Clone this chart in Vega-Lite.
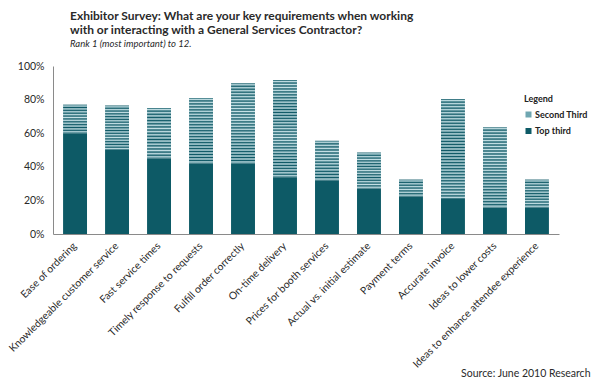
{
  "$schema": "https://vega.github.io/schema/vega-lite/v6.json",
  "autosize": "none",
  "width": 506,
  "height": 168,
  "padding": {"left": 53, "top": 66, "right": 41, "bottom": 146},
  "background": "white",
  "config": {"font": "Lato", "view": {"stroke": null}},
  "title": {
    "text": ["Exhibitor Survey: What are your key requirements when working", "with or interacting with a General Services Contractor?"],
    "subtitle": "Rank 1 (most important) to 12.",
    "anchor": "start",
    "frame": "group",
    "dx": 17,
    "offset": 12,
    "fontSize": 12,
    "fontWeight": "bold",
    "lineHeight": 14,
    "color": "#2a2a2a",
    "subtitleFontSize": 9.5,
    "subtitleFontStyle": "italic",
    "subtitleColor": "#2a2a2a",
    "subtitlePadding": 2
  },
  "data": {
    "values": [
      {"item": "Ease of ordering", "tier": "Top third", "pct": 60},
      {"item": "Ease of ordering", "tier": "Second Third", "pct": 17},
      {"item": "Knowledgeable customer service", "tier": "Top third", "pct": 50},
      {"item": "Knowledgeable customer service", "tier": "Second Third", "pct": 26.5},
      {"item": "Fast service times", "tier": "Top third", "pct": 45},
      {"item": "Fast service times", "tier": "Second Third", "pct": 30},
      {"item": "Timely response to requests", "tier": "Top third", "pct": 42},
      {"item": "Timely response to requests", "tier": "Second Third", "pct": 39},
      {"item": "Fulfill order correctly", "tier": "Top third", "pct": 42},
      {"item": "Fulfill order correctly", "tier": "Second Third", "pct": 47.7},
      {"item": "On-time delivery", "tier": "Top third", "pct": 33.8},
      {"item": "On-time delivery", "tier": "Second Third", "pct": 57.8},
      {"item": "Prices for booth services", "tier": "Top third", "pct": 31.8},
      {"item": "Prices for booth services", "tier": "Second Third", "pct": 23.7},
      {"item": "Actual vs. initial estimate", "tier": "Top third", "pct": 27},
      {"item": "Actual vs. initial estimate", "tier": "Second Third", "pct": 21.5},
      {"item": "Payment terms", "tier": "Top third", "pct": 22.3},
      {"item": "Payment terms", "tier": "Second Third", "pct": 10.1},
      {"item": "Accurate invoice", "tier": "Top third", "pct": 20.9},
      {"item": "Accurate invoice", "tier": "Second Third", "pct": 59.4},
      {"item": "Ideas to lower costs", "tier": "Top third", "pct": 15.7},
      {"item": "Ideas to lower costs", "tier": "Second Third", "pct": 47.9},
      {"item": "Ideas to enhance attendee experience", "tier": "Top third", "pct": 15.7},
      {"item": "Ideas to enhance attendee experience", "tier": "Second Third", "pct": 16.7}
    ]
  },
  "mark": {"type": "bar"},
  "encoding": {
    "x": {
      "field": "item",
      "type": "nominal",
      "sort": null,
      "scale": {"paddingInner": 0.43, "paddingOuter": 0.24},
      "axis": {
        "title": "Source: June 2010 Research",
        "titleAnchor": "end",
        "titleAlign": "right",
        "titleBaseline": "alphabetic",
        "titleX": 537,
        "titleY": 142,
        "titleFontSize": 10.5,
        "titleFontWeight": "normal",
        "titleColor": "#2a2a2a",
        "labelAngle": -45,
        "labelAlign": "right",
        "labelBaseline": "middle",
        "labelFontSize": 10.4,
        "labelColor": "#2a2a2a",
        "labelPadding": 10,
        "labelLimit": 0,
        "ticks": false,
        "domainColor": "#8a8a8a",
        "domainWidth": 1
      }
    },
    "y": {
      "field": "pct",
      "type": "quantitative",
      "stack": "zero",
      "scale": {"domain": [0, 100], "nice": false},
      "axis": {
        "title": null,
        "values": [0, 20, 40, 60, 80, 100],
        "labelExpr": "datum.value + '%'",
        "labelFontSize": 10.5,
        "labelColor": "#2a2a2a",
        "labelPadding": 9,
        "ticks": false,
        "grid": false,
        "domainColor": "#8a8a8a",
        "domainWidth": 1
      }
    },
    "order": {"field": "tier", "sort": "descending"},
    "fill": {
      "field": "tier",
      "type": "nominal",
      "scale": {"domain": ["Second Third", "Top third"], "range": ["#6fa6b1", "#0d5a66"]},
      "legend": {
        "title": "Legend",
        "orient": "none",
        "legendX": 471,
        "legendY": 29,
        "titleFontSize": 9,
        "titleFontWeight": "bold",
        "titleColor": "#222222",
        "titlePadding": 6,
        "labelFontSize": 9,
        "labelFontWeight": "bold",
        "labelColor": "#222222",
        "labelOffset": 2,
        "symbolType": "square",
        "symbolSize": 36,
        "symbolStrokeWidth": 0,
        "rowPadding": 6.5
      },
      "condition": [
        {"test": "datum.tier === 'Second Third' && datum.item === 'Payment terms'", "value": {"gradient": "linear", "x1": 0, "y1": 0, "x2": 0, "y2": 1, "stops": [
          {"offset": 0, "color": "#0f5966"}, {"offset": 0.0833, "color": "#c6e1e6"}, {"offset": 0.1667, "color": "#0f5966"}, {"offset": 0.25, "color": "#c6e1e6"}, {"offset": 0.3333, "color": "#0f5966"}, {"offset": 0.4167, "color": "#c6e1e6"}, {"offset": 0.5, "color": "#0f5966"}, {"offset": 0.5833, "color": "#c6e1e6"}, {"offset": 0.6667, "color": "#0f5966"}, {"offset": 0.75, "color": "#c6e1e6"}, {"offset": 0.8333, "color": "#0f5966"}, {"offset": 0.9167, "color": "#c6e1e6"}, {"offset": 1, "color": "#0f5966"}]}},
        {"test": "datum.tier === 'Second Third' && (datum.item === 'Ease of ordering' || datum.item === 'Ideas to enhance attendee experience')", "value": {"gradient": "linear", "x1": 0, "y1": 0, "x2": 0, "y2": 1, "stops": [
          {"offset": 0, "color": "#0f5966"}, {"offset": 0.05, "color": "#c6e1e6"}, {"offset": 0.1, "color": "#0f5966"}, {"offset": 0.15, "color": "#c6e1e6"}, {"offset": 0.2, "color": "#0f5966"}, {"offset": 0.25, "color": "#c6e1e6"}, {"offset": 0.3, "color": "#0f5966"}, {"offset": 0.35, "color": "#c6e1e6"}, {"offset": 0.4, "color": "#0f5966"}, {"offset": 0.45, "color": "#c6e1e6"}, {"offset": 0.5, "color": "#0f5966"}, {"offset": 0.55, "color": "#c6e1e6"}, {"offset": 0.6, "color": "#0f5966"}, {"offset": 0.65, "color": "#c6e1e6"}, {"offset": 0.7, "color": "#0f5966"}, {"offset": 0.75, "color": "#c6e1e6"}, {"offset": 0.8, "color": "#0f5966"}, {"offset": 0.85, "color": "#c6e1e6"}, {"offset": 0.9, "color": "#0f5966"}, {"offset": 0.95, "color": "#c6e1e6"}, {"offset": 1, "color": "#0f5966"}]}},
        {"test": "datum.tier === 'Second Third' && (datum.item === 'Actual vs. initial estimate' || datum.item === 'Prices for booth services')", "value": {"gradient": "linear", "x1": 0, "y1": 0, "x2": 0, "y2": 1, "stops": [
          {"offset": 0, "color": "#0f5966"}, {"offset": 0.0385, "color": "#c6e1e6"}, {"offset": 0.0769, "color": "#0f5966"}, {"offset": 0.1154, "color": "#c6e1e6"}, {"offset": 0.1538, "color": "#0f5966"}, {"offset": 0.1923, "color": "#c6e1e6"}, {"offset": 0.2308, "color": "#0f5966"}, {"offset": 0.2692, "color": "#c6e1e6"}, {"offset": 0.3077, "color": "#0f5966"}, {"offset": 0.3462, "color": "#c6e1e6"}, {"offset": 0.3846, "color": "#0f5966"}, {"offset": 0.4231, "color": "#c6e1e6"}, {"offset": 0.4615, "color": "#0f5966"}, {"offset": 0.5, "color": "#c6e1e6"}, {"offset": 0.5385, "color": "#0f5966"}, {"offset": 0.5769, "color": "#c6e1e6"}, {"offset": 0.6154, "color": "#0f5966"}, {"offset": 0.6538, "color": "#c6e1e6"}, {"offset": 0.6923, "color": "#0f5966"}, {"offset": 0.7308, "color": "#c6e1e6"}, {"offset": 0.7692, "color": "#0f5966"}, {"offset": 0.8077, "color": "#c6e1e6"}, {"offset": 0.8462, "color": "#0f5966"}, {"offset": 0.8846, "color": "#c6e1e6"}, {"offset": 0.9231, "color": "#0f5966"}, {"offset": 0.9615, "color": "#c6e1e6"}, {"offset": 1, "color": "#0f5966"}]}},
        {"test": "datum.tier === 'Second Third' && (datum.item === 'Knowledgeable customer service' || datum.item === 'Fast service times')", "value": {"gradient": "linear", "x1": 0, "y1": 0, "x2": 0, "y2": 1, "stops": [
          {"offset": 0, "color": "#0f5966"}, {"offset": 0.03125, "color": "#c6e1e6"}, {"offset": 0.0625, "color": "#0f5966"}, {"offset": 0.09375, "color": "#c6e1e6"}, {"offset": 0.125, "color": "#0f5966"}, {"offset": 0.15625, "color": "#c6e1e6"}, {"offset": 0.1875, "color": "#0f5966"}, {"offset": 0.21875, "color": "#c6e1e6"}, {"offset": 0.25, "color": "#0f5966"}, {"offset": 0.28125, "color": "#c6e1e6"}, {"offset": 0.3125, "color": "#0f5966"}, {"offset": 0.34375, "color": "#c6e1e6"}, {"offset": 0.375, "color": "#0f5966"}, {"offset": 0.40625, "color": "#c6e1e6"}, {"offset": 0.4375, "color": "#0f5966"}, {"offset": 0.46875, "color": "#c6e1e6"}, {"offset": 0.5, "color": "#0f5966"}, {"offset": 0.53125, "color": "#c6e1e6"}, {"offset": 0.5625, "color": "#0f5966"}, {"offset": 0.59375, "color": "#c6e1e6"}, {"offset": 0.625, "color": "#0f5966"}, {"offset": 0.65625, "color": "#c6e1e6"}, {"offset": 0.6875, "color": "#0f5966"}, {"offset": 0.71875, "color": "#c6e1e6"}, {"offset": 0.75, "color": "#0f5966"}, {"offset": 0.78125, "color": "#c6e1e6"}, {"offset": 0.8125, "color": "#0f5966"}, {"offset": 0.84375, "color": "#c6e1e6"}, {"offset": 0.875, "color": "#0f5966"}, {"offset": 0.90625, "color": "#c6e1e6"}, {"offset": 0.9375, "color": "#0f5966"}, {"offset": 0.96875, "color": "#c6e1e6"}, {"offset": 1, "color": "#0f5966"}]}},
        {"test": "datum.tier === 'Second Third' && datum.item === 'Timely response to requests'", "value": {"gradient": "linear", "x1": 0, "y1": 0, "x2": 0, "y2": 1, "stops": [
          {"offset": 0, "color": "#0f5966"}, {"offset": 0.0227, "color": "#c6e1e6"}, {"offset": 0.0455, "color": "#0f5966"}, {"offset": 0.0682, "color": "#c6e1e6"}, {"offset": 0.0909, "color": "#0f5966"}, {"offset": 0.1136, "color": "#c6e1e6"}, {"offset": 0.1364, "color": "#0f5966"}, {"offset": 0.1591, "color": "#c6e1e6"}, {"offset": 0.1818, "color": "#0f5966"}, {"offset": 0.2045, "color": "#c6e1e6"}, {"offset": 0.2273, "color": "#0f5966"}, {"offset": 0.25, "color": "#c6e1e6"}, {"offset": 0.2727, "color": "#0f5966"}, {"offset": 0.2955, "color": "#c6e1e6"}, {"offset": 0.3182, "color": "#0f5966"}, {"offset": 0.3409, "color": "#c6e1e6"}, {"offset": 0.3636, "color": "#0f5966"}, {"offset": 0.3864, "color": "#c6e1e6"}, {"offset": 0.4091, "color": "#0f5966"}, {"offset": 0.4318, "color": "#c6e1e6"}, {"offset": 0.4545, "color": "#0f5966"}, {"offset": 0.4773, "color": "#c6e1e6"}, {"offset": 0.5, "color": "#0f5966"}, {"offset": 0.5227, "color": "#c6e1e6"}, {"offset": 0.5455, "color": "#0f5966"}, {"offset": 0.5682, "color": "#c6e1e6"}, {"offset": 0.5909, "color": "#0f5966"}, {"offset": 0.6136, "color": "#c6e1e6"}, {"offset": 0.6364, "color": "#0f5966"}, {"offset": 0.6591, "color": "#c6e1e6"}, {"offset": 0.6818, "color": "#0f5966"}, {"offset": 0.7045, "color": "#c6e1e6"}, {"offset": 0.7273, "color": "#0f5966"}, {"offset": 0.75, "color": "#c6e1e6"}, {"offset": 0.7727, "color": "#0f5966"}, {"offset": 0.7955, "color": "#c6e1e6"}, {"offset": 0.8182, "color": "#0f5966"}, {"offset": 0.8409, "color": "#c6e1e6"}, {"offset": 0.8636, "color": "#0f5966"}, {"offset": 0.8864, "color": "#c6e1e6"}, {"offset": 0.9091, "color": "#0f5966"}, {"offset": 0.9318, "color": "#c6e1e6"}, {"offset": 0.9545, "color": "#0f5966"}, {"offset": 0.9773, "color": "#c6e1e6"}, {"offset": 1, "color": "#0f5966"}]}},
        {"test": "datum.tier === 'Second Third' && (datum.item === 'Fulfill order correctly' || datum.item === 'Ideas to lower costs')", "value": {"gradient": "linear", "x1": 0, "y1": 0, "x2": 0, "y2": 1, "stops": [
          {"offset": 0, "color": "#0f5966"}, {"offset": 0.0185, "color": "#c6e1e6"}, {"offset": 0.037, "color": "#0f5966"}, {"offset": 0.0556, "color": "#c6e1e6"}, {"offset": 0.0741, "color": "#0f5966"}, {"offset": 0.0926, "color": "#c6e1e6"}, {"offset": 0.1111, "color": "#0f5966"}, {"offset": 0.1296, "color": "#c6e1e6"}, {"offset": 0.1481, "color": "#0f5966"}, {"offset": 0.1667, "color": "#c6e1e6"}, {"offset": 0.1852, "color": "#0f5966"}, {"offset": 0.2037, "color": "#c6e1e6"}, {"offset": 0.2222, "color": "#0f5966"}, {"offset": 0.2407, "color": "#c6e1e6"}, {"offset": 0.2593, "color": "#0f5966"}, {"offset": 0.2778, "color": "#c6e1e6"}, {"offset": 0.2963, "color": "#0f5966"}, {"offset": 0.3148, "color": "#c6e1e6"}, {"offset": 0.3333, "color": "#0f5966"}, {"offset": 0.3519, "color": "#c6e1e6"}, {"offset": 0.3704, "color": "#0f5966"}, {"offset": 0.3889, "color": "#c6e1e6"}, {"offset": 0.4074, "color": "#0f5966"}, {"offset": 0.4259, "color": "#c6e1e6"}, {"offset": 0.4444, "color": "#0f5966"}, {"offset": 0.463, "color": "#c6e1e6"}, {"offset": 0.4815, "color": "#0f5966"}, {"offset": 0.5, "color": "#c6e1e6"}, {"offset": 0.5185, "color": "#0f5966"}, {"offset": 0.537, "color": "#c6e1e6"}, {"offset": 0.5556, "color": "#0f5966"}, {"offset": 0.5741, "color": "#c6e1e6"}, {"offset": 0.5926, "color": "#0f5966"}, {"offset": 0.6111, "color": "#c6e1e6"}, {"offset": 0.6296, "color": "#0f5966"}, {"offset": 0.6481, "color": "#c6e1e6"}, {"offset": 0.6667, "color": "#0f5966"}, {"offset": 0.6852, "color": "#c6e1e6"}, {"offset": 0.7037, "color": "#0f5966"}, {"offset": 0.7222, "color": "#c6e1e6"}, {"offset": 0.7407, "color": "#0f5966"}, {"offset": 0.7593, "color": "#c6e1e6"}, {"offset": 0.7778, "color": "#0f5966"}, {"offset": 0.7963, "color": "#c6e1e6"}, {"offset": 0.8148, "color": "#0f5966"}, {"offset": 0.8333, "color": "#c6e1e6"}, {"offset": 0.8519, "color": "#0f5966"}, {"offset": 0.8704, "color": "#c6e1e6"}, {"offset": 0.8889, "color": "#0f5966"}, {"offset": 0.9074, "color": "#c6e1e6"}, {"offset": 0.9259, "color": "#0f5966"}, {"offset": 0.9444, "color": "#c6e1e6"}, {"offset": 0.963, "color": "#0f5966"}, {"offset": 0.9815, "color": "#c6e1e6"}, {"offset": 1, "color": "#0f5966"}]}},
        {"test": "datum.tier === 'Second Third' && (datum.item === 'On-time delivery' || datum.item === 'Accurate invoice')", "value": {"gradient": "linear", "x1": 0, "y1": 0, "x2": 0, "y2": 1, "stops": [
          {"offset": 0, "color": "#0f5966"}, {"offset": 0.0152, "color": "#c6e1e6"}, {"offset": 0.0303, "color": "#0f5966"}, {"offset": 0.0455, "color": "#c6e1e6"}, {"offset": 0.0606, "color": "#0f5966"}, {"offset": 0.0758, "color": "#c6e1e6"}, {"offset": 0.0909, "color": "#0f5966"}, {"offset": 0.1061, "color": "#c6e1e6"}, {"offset": 0.1212, "color": "#0f5966"}, {"offset": 0.1364, "color": "#c6e1e6"}, {"offset": 0.1515, "color": "#0f5966"}, {"offset": 0.1667, "color": "#c6e1e6"}, {"offset": 0.1818, "color": "#0f5966"}, {"offset": 0.197, "color": "#c6e1e6"}, {"offset": 0.2121, "color": "#0f5966"}, {"offset": 0.2273, "color": "#c6e1e6"}, {"offset": 0.2424, "color": "#0f5966"}, {"offset": 0.2576, "color": "#c6e1e6"}, {"offset": 0.2727, "color": "#0f5966"}, {"offset": 0.2879, "color": "#c6e1e6"}, {"offset": 0.303, "color": "#0f5966"}, {"offset": 0.3182, "color": "#c6e1e6"}, {"offset": 0.3333, "color": "#0f5966"}, {"offset": 0.3485, "color": "#c6e1e6"}, {"offset": 0.3636, "color": "#0f5966"}, {"offset": 0.3788, "color": "#c6e1e6"}, {"offset": 0.3939, "color": "#0f5966"}, {"offset": 0.4091, "color": "#c6e1e6"}, {"offset": 0.4242, "color": "#0f5966"}, {"offset": 0.4394, "color": "#c6e1e6"}, {"offset": 0.4545, "color": "#0f5966"}, {"offset": 0.4697, "color": "#c6e1e6"}, {"offset": 0.4848, "color": "#0f5966"}, {"offset": 0.5, "color": "#c6e1e6"}, {"offset": 0.5152, "color": "#0f5966"}, {"offset": 0.5303, "color": "#c6e1e6"}, {"offset": 0.5455, "color": "#0f5966"}, {"offset": 0.5606, "color": "#c6e1e6"}, {"offset": 0.5758, "color": "#0f5966"}, {"offset": 0.5909, "color": "#c6e1e6"}, {"offset": 0.6061, "color": "#0f5966"}, {"offset": 0.6212, "color": "#c6e1e6"}, {"offset": 0.6364, "color": "#0f5966"}, {"offset": 0.6515, "color": "#c6e1e6"}, {"offset": 0.6667, "color": "#0f5966"}, {"offset": 0.6818, "color": "#c6e1e6"}, {"offset": 0.697, "color": "#0f5966"}, {"offset": 0.7121, "color": "#c6e1e6"}, {"offset": 0.7273, "color": "#0f5966"}, {"offset": 0.7424, "color": "#c6e1e6"}, {"offset": 0.7576, "color": "#0f5966"}, {"offset": 0.7727, "color": "#c6e1e6"}, {"offset": 0.7879, "color": "#0f5966"}, {"offset": 0.803, "color": "#c6e1e6"}, {"offset": 0.8182, "color": "#0f5966"}, {"offset": 0.8333, "color": "#c6e1e6"}, {"offset": 0.8485, "color": "#0f5966"}, {"offset": 0.8636, "color": "#c6e1e6"}, {"offset": 0.8788, "color": "#0f5966"}, {"offset": 0.8939, "color": "#c6e1e6"}, {"offset": 0.9091, "color": "#0f5966"}, {"offset": 0.9242, "color": "#c6e1e6"}, {"offset": 0.9394, "color": "#0f5966"}, {"offset": 0.9545, "color": "#c6e1e6"}, {"offset": 0.9697, "color": "#0f5966"}, {"offset": 0.9848, "color": "#c6e1e6"}, {"offset": 1, "color": "#0f5966"}]}}
      ]
    }
  }
}
